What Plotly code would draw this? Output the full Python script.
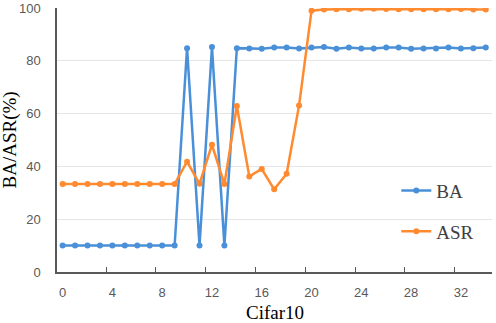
import plotly.graph_objects as go

# dados
epochs = list(range(35))
ba = [10.0, 10.0, 10.0, 10.0, 10.0, 10.0, 10.0, 10.0, 10.0, 10.0,
      84.8, 10.0, 85.2, 10.0, 84.8, 84.7, 84.6, 85.0, 85.0, 84.7,
      85.0, 85.2, 84.6, 85.0, 84.7, 84.7, 85.0, 85.0, 84.6, 84.7,
      84.7, 85.0, 84.7, 84.8, 85.0]
asr = [33.3, 33.3, 33.3, 33.3, 33.3, 33.3, 33.3, 33.3, 33.3, 33.3,
       41.8, 33.4, 48.2, 33.3, 62.9, 36.2, 39.0, 31.3, 37.2, 63.1,
       99.0, 99.4, 99.5, 99.5, 99.7, 99.7, 99.6, 99.5, 99.5, 99.5,
       99.5, 99.5, 99.6, 99.4, 99.4]
x_ticks = [0, 4, 8, 12, 16, 20, 24, 28, 32]
y_ticks = [0, 20, 40, 60, 80, 100]

serif = "Liberation Serif, Times New Roman, serif"
sans = "Liberation Sans, Arial, sans-serif"

fig = go.Figure()
fig.add_trace(go.Scatter(x=epochs, y=ba, name="BA", mode="lines+markers", legendgroup="ba",
                         line=dict(color="#4A90D9", width=2.5),
                         marker=dict(size=6, color="#4A90D9")))
fig.add_trace(go.Scatter(x=epochs, y=asr, name="ASR", mode="lines+markers", legendgroup="asr",
                         line=dict(color="#FF8A30", width=2.5),
                         marker=dict(size=6, color="#FF8A30")))

fig.update_layout(
    width=496, height=323,
    margin=dict(l=57, r=4, t=8, b=51, autoexpand=False),
    plot_bgcolor="white", paper_bgcolor="white",
    legend=dict(x=0.78, y=0.38, xanchor="left", yanchor="top",
                font=dict(family=serif, size=19, color="#404040"),
                bgcolor="rgba(0,0,0,0)", tracegroupgap=13, traceorder="grouped",
                itemwidth=30),
    showlegend=True,
    annotations=[
        dict(text="Cifar10", xref="paper", yref="paper", x=0.5, y=-0.155,
             xanchor="center", yanchor="middle", showarrow=False,
             font=dict(family=serif, size=19, color="#000000")),
        dict(text="BA/ASR(%)", xref="paper", yref="paper", x=-0.107, y=0.5,
             xanchor="center", yanchor="middle", showarrow=False, textangle=-90,
             font=dict(family=serif, size=19, color="#000000")),
    ],
)
fig.update_xaxes(
    range=[-0.45, 34.5], tickmode="array", tickvals=x_ticks, automargin=False,
    ticktext=[str(v) for v in x_ticks], ticks="", showgrid=False, zeroline=False,
    showline=True, linecolor="#595959", linewidth=1.5,
    tickfont=dict(family=sans, size=13, color="#595959"), ticklabelstandoff=8,
    minor=dict(tickmode="array", tickvals=[v + 3.5 for v in x_ticks[:-1]],
               ticks="inside", ticklen=5, tickcolor="#595959", tickwidth=1, showgrid=False),
)
fig.update_yaxes(
    range=[0, 100], tickmode="array", tickvals=y_ticks, ticks="", automargin=False,
    showgrid=True, gridcolor="#E6E6E6", gridwidth=1, zeroline=False,
    showline=True, linecolor="#595959", linewidth=1.5,
    tickfont=dict(family=sans, size=13, color="#595959"), ticklabelstandoff=12,
)

# tira a margem padrão do body para a figura ficar no canto da página
fig.write_html("out.html", config={"displayModeBar": False},
               post_script="document.body.style.margin='0';")
